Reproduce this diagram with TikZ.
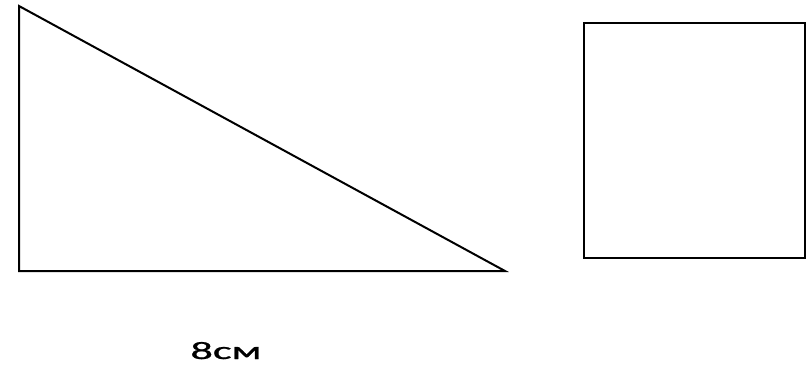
\documentclass[tikz,border=0pt]{standalone}
\usepackage{fontspec}
\setmainfont{Carlito}
\newfontfamily\lblfont{Carlito}[FakeBold=0.8]
\begin{document}
\begin{tikzpicture}[x=1pt,y=-1pt,line width=2pt,
  outline/.style={draw=black,line join=miter}]
\useasboundingbox (0,0) rectangle (807,372);
\coordinate (A) at (19,6);
\coordinate (B) at (19,271);
\coordinate (C) at (505,271);
\draw[outline] (A) -- (B) -- (C) -- cycle;
\draw[outline] (583.5,23) rectangle (805,258);
\node[anchor=base,inner sep=0pt] (lbl) at (226,359) {\resizebox{71pt}{17pt}{\lblfont 8см}};
\end{tikzpicture}
\end{document}
